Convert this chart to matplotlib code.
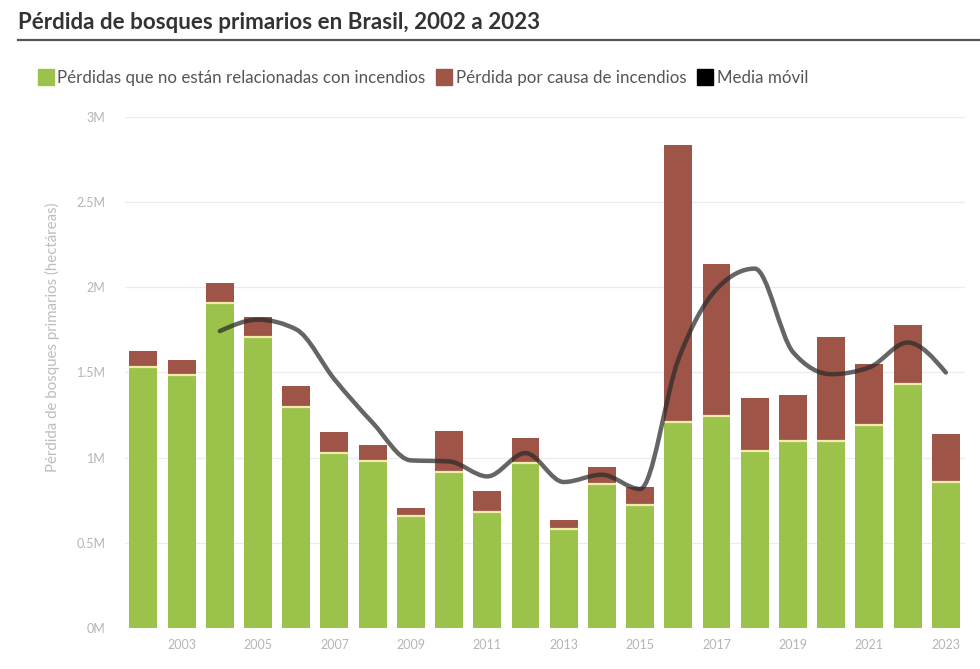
import numpy as np
import matplotlib
matplotlib.use("Agg")
import matplotlib.pyplot as plt
from matplotlib.path import Path
from matplotlib.patches import PathPatch
from matplotlib.lines import Line2D

# ── data (hectares) ──
years = list(range(2002, 2024))
no_fire = [1.535, 1.488, 1.91, 1.71, 1.298, 1.028, 0.978, 0.659, 0.916, 0.68, 0.969,
           0.582, 0.847, 0.72, 1.21, 1.247, 1.037, 1.10, 1.096, 1.194, 1.435, 0.855]
total = [1.625, 1.573, 2.024, 1.825, 1.42, 1.151, 1.076, 0.704, 1.155, 0.802, 1.116,
         0.634, 0.943, 0.828, 2.837, 2.139, 1.35, 1.365, 1.708, 1.551, 1.776, 1.139]
ma_years = list(range(2004, 2024))
ma_values = [1.743, 1.81, 1.753, 1.46, 1.205, 0.984, 0.978, 0.89, 1.027, 0.857,
             0.90, 0.816, 1.576, 1.99, 2.11, 1.62, 1.49, 1.53, 1.676, 1.50]

legend_labels = ["Pérdidas que no están relacionadas con incendios",
                 "Pérdida por causa de incendios", "Media móvil"]
yticks = [0, 0.5e6, 1e6, 1.5e6, 2e6, 2.5e6, 3e6]
ytick_labels = ["0M", "0.5M", "1M", "1.5M", "2M", "2.5M", "3M"]
xticks = list(range(2003, 2024, 2))

GREEN = '#9bc24b'
BROWN = '#9e5548'
SEP = '#f2ecaa'
GREY_TXT = '#b5b5b5'

x = np.array(years, dtype=float)
nf = np.array(no_fire) * 1e6
fire = (np.array(total) - np.array(no_fire)) * 1e6


def monotone_path(xs, ys):
    # monotone cubic (like d3 curveMonotoneX) turned into bezier segments
    xs = np.asarray(xs, float)
    ys = np.asarray(ys, float)
    h = np.diff(xs)
    s = np.diff(ys) / h
    n = len(xs)
    t = np.zeros(n)
    for i in range(1, n - 1):
        p = (s[i - 1] * h[i] + s[i] * h[i - 1]) / (h[i - 1] + h[i])
        t[i] = (np.sign(s[i - 1]) + np.sign(s[i])) * min(abs(s[i - 1]), abs(s[i]), 0.5 * abs(p))
    t[0] = (3 * s[0] - t[1]) / 2
    t[-1] = (3 * s[-1] - t[-2]) / 2
    verts = [(xs[0], ys[0])]
    codes = [Path.MOVETO]
    for i in range(n - 1):
        d = h[i] / 3
        verts += [(xs[i] + d, ys[i] + t[i] * d),
                  (xs[i + 1] - d, ys[i + 1] - t[i + 1] * d),
                  (xs[i + 1], ys[i + 1])]
        codes += [Path.CURVE4] * 3
    return Path(verts, codes)


fig = plt.figure(figsize=(9.8, 6.69), dpi=100, facecolor='white')
ax = fig.add_axes([0.1276, 0.0613, 0.857, 0.7638])

w = 0.73
ax.bar(x, nf, width=w, color=GREEN, zorder=2)
ax.bar(x, fire, width=w, bottom=nf, color=BROWN, zorder=2)
ax.hlines(nf, x - w / 2, x + w / 2, color=SEP, linewidth=1.6, zorder=3)

ma_path = monotone_path(ma_years, np.array(ma_values) * 1e6)
ax.add_patch(PathPatch(ma_path, fill=False, edgecolor='#2a2a2a', alpha=0.72,
                       linewidth=3.2, capstyle='round', joinstyle='round', zorder=4))

ax.set_xlim(2001.52, 2023.5)
ax.set_ylim(0, 3e6)
ax.set_yticks(yticks)
ax.set_yticklabels(ytick_labels)
ax.set_xticks(xticks)
ax.set_xticklabels([str(v) for v in xticks])
ax.tick_params(axis='both', length=0, colors=GREY_TXT, labelsize=9)
ax.tick_params(axis='y', pad=14)
ax.tick_params(axis='x', pad=8)
for lab in ax.get_xticklabels() + ax.get_yticklabels():
    lab.set_family(['Lato', 'DejaVu Sans'])
ax.grid(axis='y', color='#ececec', linewidth=0.9, zorder=0)
ax.set_axisbelow(True)
for sp in ax.spines.values():
    sp.set_visible(False)

fig.text(0.054, 0.496, "Pérdida de bosques primarios (hectáreas)", rotation=90,
         ha='center', va='center', color='#bdbdbd', fontsize=10.8,
         family=['Lato', 'DejaVu Sans'])

# title + rule
fig.text(0.018, 0.966, "Pérdida de bosques primarios en Brasil, 2002 a 2023",
         ha='left', va='center', fontsize=16.1, fontweight='bold', color='#333333',
         family=['Lato', 'DejaVu Sans'])
fig.add_artist(Line2D([0.018, 1.0], [0.94, 0.94], color='#555555', linewidth=1.6))

handles = [Line2D([], [], marker='s', linestyle='none', markersize=11, color=GREEN),
           Line2D([], [], marker='s', linestyle='none', markersize=11, color=BROWN),
           Line2D([], [], marker='s', linestyle='none', markersize=11, color='black')]
leg = fig.legend(handles, legend_labels, loc='center left', bbox_to_anchor=(0.024, 0.884),
                 ncol=3, frameon=False, handlelength=0.8, handletextpad=0.3,
                 columnspacing=0.7, prop={'family': ['Lato', 'DejaVu Sans'], 'size': 12.2})
for t in leg.get_texts():
    t.set_color('#555555')

fig.savefig('out.png', dpi=100, facecolor='white')
